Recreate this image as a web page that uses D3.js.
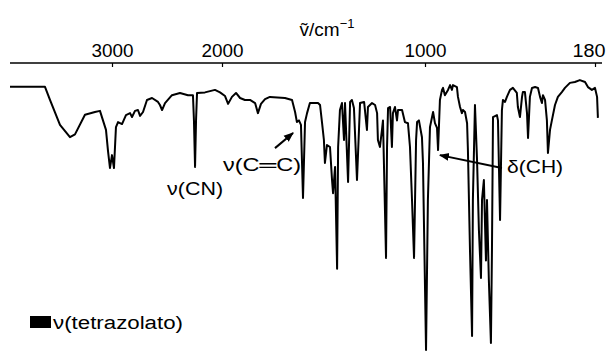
<!DOCTYPE html>
<html>
<head>
<meta charset="utf-8">
<script src="https://cdn.jsdelivr.net/npm/d3@7"></script>
<style>
  body { margin: 0; background: #fff; }
  svg { display: block; }
  text { font-family: "Liberation Sans", Arial, Helvetica, sans-serif; fill: #000; }
</style>
</head>
<body>
<script>
// wavenumber (cm-1) and transmittance (%)
const wavenumbers = [4000, 3804, 3657, 3608, 3510, 3412, 3363, 3265, 3167, 3118, 3059, 3039, 3020, 3000, 2982, 2964, 2945, 2909, 2873, 2836,
  2818, 2791, 2764, 2745, 2718, 2682, 2636, 2582, 2564, 2545, 2518, 2455, 2382, 2309, 2264, 2255, 2245, 2236, 2227, 2155,
  2064, 2018, 1985, 1970, 1951, 1931, 1911, 1887, 1862, 1837, 1823, 1808, 1788, 1764, 1690, 1655, 1640, 1631, 1621, 1611,
  1601, 1591, 1581, 1567, 1527, 1517, 1507, 1498, 1493, 1483, 1468, 1458, 1453, 1443, 1433, 1428, 1419, 1409, 1399, 1394,
  1379, 1369, 1360, 1350, 1335, 1320, 1300, 1286, 1281, 1261, 1246, 1236, 1232, 1222, 1212, 1207, 1192, 1187, 1182, 1172,
  1163, 1158, 1148, 1138, 1133, 1113, 1099, 1084, 1074, 1064, 1054, 1044, 1039, 1030, 1015, 1010, 995, 986, 976, 966,
  961, 952, 942, 937, 928, 918, 913, 904, 889, 879, 870, 865, 846, 841, 831, 822, 817, 807, 797, 793,
  783, 773, 769, 759, 749, 740, 730, 725, 716, 706, 701, 692, 682, 677, 672, 653, 648, 638, 629, 624,
  614, 605, 590, 576, 557, 552, 542, 532, 528, 518, 508, 503, 494, 484, 469, 455, 445, 436, 431, 421,
  412, 407, 397, 388, 373, 359, 340, 325, 301, 277, 253, 228, 214, 195, 180, 170, 166];
const transmittance = [94, 94, 94, 89.3, 80.4, 76, 77, 84, 85, 85.4, 78.6, 71, 65, 69.6, 65, 79.6, 81.4, 80.7, 83.9, 84.6,
  83.2, 85.4, 85.7, 83.6, 85, 89.3, 90, 88.6, 87.5, 85.7, 88.2, 91, 91.8, 91, 91, 82, 65.4, 82, 91.8, 92,
  92.9, 92, 90.7, 87.9, 90.4, 91.8, 90, 89.3, 89.3, 88.2, 84.6, 87.9, 89.6, 90.4, 90, 89.3, 85, 81.4, 82, 80.4,
  54.3, 81.4, 84.6, 88.2, 88.2, 87.5, 81, 75, 66.8, 73.2, 72.5, 60.7, 56, 65.4, 29, 72.5, 85.7, 88.2, 75, 88.2,
  60, 88.6, 89.3, 86.4, 60.7, 88.2, 88.6, 78.6, 86.8, 88.2, 87.5, 84.6, 75, 72.5, 78.6, 82, 32.9, 72.5, 86.4, 86.8,
  72.5, 84.6, 86.8, 82, 85.7, 85.7, 81.4, 81, 72.5, 53.6, 32.9, 75, 81.4, 82, 76, 66.8, 0, 53.6, 79.6, 83.2,
  85, 81, 79.3, 71.4, 89.3, 92.9, 93.6, 91, 92.9, 94.6, 92.9, 94.6, 93.9, 90.4, 86.8, 84.6, 85.7, 85, 81, 71.4,
  35.7, 5, 53.6, 87.5, 67.9, 42.9, 25.7, 53.6, 60.7, 32, 53.6, 25, 2.5, 35.7, 83.2, 83.9, 82, 46.4, 85.7, 89.3,
  88.6, 90.4, 92.9, 93.6, 91.8, 86.8, 83.2, 90.4, 92.1, 92.1, 84.6, 75.7, 90.4, 93.6, 93.9, 93.6, 90.4, 88.2, 91, 89.3,
  82, 70.4, 78.6, 82, 87.5, 90.4, 92.1, 93.6, 95.4, 95.7, 96.4, 95.7, 93.9, 92.9, 93.6, 90.4, 82.9];

const tickValues = [3000, 2000, 1000, 180];

// annotation labels: text, wavenumber, transmittance, anchor, printed width
const labelTexts = ["\u03bd(CN)", "\u03bd(C\u2550C)", "\u03b4(CH)"];
const labelWn = [2245, 1995, 604];
const labelT = [55.4, 64, 63.2];
const labelAnchor = ["middle", "start", "start"];
const labelWidth = [56, 78, 56];

// arrows: from (wn, T) to (wn, T)
const arrowFrom = [[1739, 72.1], [629, 65]];
const arrowTo = [[1650, 77.5], [928, 69.6]];

const width = 614;
const height = 352;
const axisY = 63;

const svg = d3.select("body").append("svg").attr("width", width).attr("height", height);

// scale changes at 2000 cm-1, like the paper spectrum
const x = d3.scaleLinear().domain([4000, 3000, 2000, 1000, 180]).range([10, 112, 222, 425, 595]);
const y = d3.scaleLinear().domain([0, 100]).range([350, 70]);

const defs = svg.append("defs");
defs.append("marker")
  .attr("id", "head")
  .attr("viewBox", "0 0 10 10")
  .attr("refX", 9).attr("refY", 5)
  .attr("markerWidth", 5).attr("markerHeight", 5)
  .attr("orient", "auto")
  .append("path").attr("d", "M0,1 L10,5 L0,9 z").attr("fill", "#000");

// top axis
const xAxis = d3.axisTop(x).tickValues(tickValues).tickSize(-4).tickPadding(6).tickFormat(d3.format("d"));
const gx = svg.append("g").attr("transform", "translate(0," + axisY + ")").call(xAxis);
gx.select(".domain").attr("d", "M10,0H602").attr("stroke", "#000").attr("stroke-width", 1.5);
gx.selectAll(".tick line").attr("stroke", "#000").attr("stroke-width", 1.2);
gx.selectAll(".tick text").attr("font-size", 18).attr("fill", "#000")
  .style("font-family", "'Liberation Sans', Arial, sans-serif")
  .attr("textLength", d => d === 180 ? 33 : 42).attr("lengthAdjust", "spacingAndGlyphs");
gx.selectAll(".tick text").filter(d => d === 180).attr("text-anchor", "end").attr("dx", 10);

// axis title
const title = svg.append("text").attr("x", 327).attr("y", 36).attr("text-anchor", "middle").attr("font-size", 19);
title.append("tspan").text("\u1e7d/cm");
title.append("tspan").attr("dy", -8).attr("font-size", 13).text("\u22121");

// spectrum
const pts = wavenumbers.map((w, i) => [w, transmittance[i]]);
const line = d3.line().x(d => x(d[0])).y(d => y(d[1]));
svg.append("path")
  .datum(pts)
  .attr("d", line)
  .attr("fill", "none")
  .attr("stroke", "#000")
  .attr("stroke-width", 2)
  .attr("stroke-linejoin", "round");

// labels
svg.selectAll("text.lab")
  .data(labelTexts)
  .enter()
  .append("text")
  .attr("class", "lab")
  .attr("x", (d, i) => x(labelWn[i]) - (labelAnchor[i] === "middle" ? labelWidth[i] / 2 : 0))
  .attr("y", (d, i) => y(labelT[i]))
  .attr("font-size", 18)
  .attr("textLength", (d, i) => labelWidth[i])
  .attr("lengthAdjust", "spacingAndGlyphs")
  .text(d => d);

// arrows
svg.selectAll("line.arrow")
  .data(arrowFrom)
  .enter()
  .append("line")
  .attr("class", "arrow")
  .attr("x1", d => x(d[0])).attr("y1", d => y(d[1]))
  .attr("x2", (d, i) => x(arrowTo[i][0])).attr("y2", (d, i) => y(arrowTo[i][1]))
  .attr("stroke", "#000")
  .attr("stroke-width", 2)
  .attr("marker-end", "url(#head)");

// legend
svg.append("rect").attr("x", 30).attr("y", 316).attr("width", 21).attr("height", 12).attr("fill", "#000");
svg.append("text").attr("x", 53).attr("y", 329).attr("font-size", 18)
  .attr("textLength", 130).attr("lengthAdjust", "spacingAndGlyphs").text("\u03bd(tetrazolato)");
</script>
</body>
</html>
